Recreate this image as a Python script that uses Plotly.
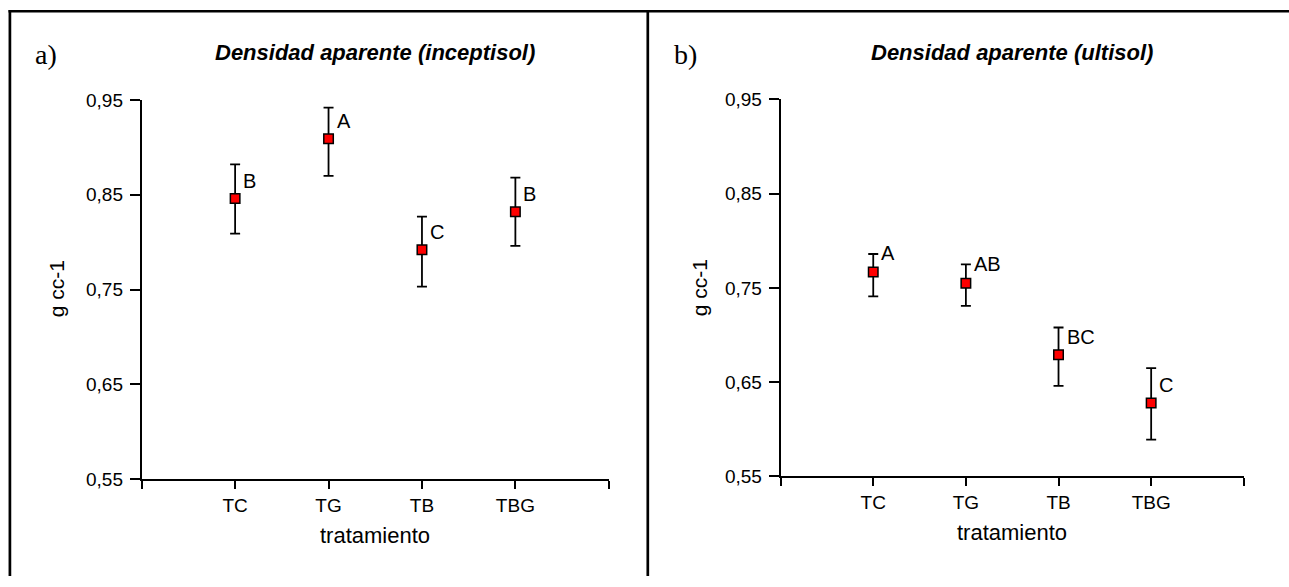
import plotly.graph_objects as go

W, H = 1289, 587

categories = ["TC", "TG", "TB", "TBG"]
letters_a = ["B", "A", "C", "B"]
letters_b = ["A", "AB", "BC", "C"]

mean_a = [0.846, 0.909, 0.792, 0.832]
upper_a = [0.882, 0.942, 0.827, 0.868]
lower_a = [0.809, 0.870, 0.753, 0.796]

mean_b = [0.767, 0.755, 0.679, 0.628]
upper_b = [0.786, 0.775, 0.708, 0.665]
lower_b = [0.741, 0.731, 0.646, 0.589]

ytick_vals = [0.55, 0.65, 0.75, 0.85, 0.95]
ytick_text = ["0,55", "0,65", "0,75", "0,85", "0,95"]

# letter pixel offsets relative to top of error bar (style)
label_dy_a = [-16.5, -13.5, -15.5, -16]
label_dy_b = [1, 0, -9, -17]

FONT = "Liberation Sans, Arial, sans-serif"

fig = go.Figure()

xpos = [i + 1 for i in range(len(categories))]


def add_panel(mean, upper, lower, xa, ya):
    fig.add_trace(go.Scatter(
        x=xpos, y=mean, mode="markers",
        xaxis=xa, yaxis=ya,
        marker=dict(symbol="square", size=9.5, color="#ff0000",
                    line=dict(color="#000000", width=1.5)),
        error_y=dict(type="data", symmetric=False,
                     array=[u - m for u, m in zip(upper, mean)],
                     arrayminus=[m - l for m, l in zip(mean, lower)],
                     color="#000000", thickness=1.8, width=5),
        showlegend=False, hoverinfo="skip",
    ))


add_panel(mean_a, upper_a, lower_a, "x", "y")
add_panel(mean_b, upper_b, lower_b, "x2", "y2")


def px_x(p):
    return p / W


def px_y(p):
    return 1 - p / H


xaxis_common = dict(
    range=[0, len(categories) + 1],
    tickmode="array",
    tickvals=list(range(len(categories) + 2)),
    ticktext=[""] + categories + [""],
    ticks="outside", ticklen=8, tickwidth=1.8, tickcolor="#000",
    showline=True, linecolor="#000", linewidth=1.8,
    showgrid=False, zeroline=False,
    tickfont=dict(family=FONT, size=19, color="#000"),
    fixedrange=True,
)
yaxis_common = dict(
    range=[0.55, 0.95],
    tickmode="array", tickvals=ytick_vals, ticktext=ytick_text,
    ticks="outside", ticklen=10, tickwidth=1.8, tickcolor="#000",
    showline=True, linecolor="#000", linewidth=1.8,
    showgrid=False, zeroline=False,
    tickfont=dict(family=FONT, size=19, color="#000"),
    ticklabelstandoff=3,
    fixedrange=True,
)

fig.update_layout(
    width=W, height=H,
    margin=dict(l=0, r=0, t=0, b=0),
    paper_bgcolor="#ffffff", plot_bgcolor="#ffffff",
    xaxis=dict(domain=[px_x(141.7), px_x(608.8)], anchor="y", **xaxis_common),
    yaxis=dict(domain=[px_y(486.5), px_y(93.3)], anchor="x", **yaxis_common),
    xaxis2=dict(domain=[px_x(780.6), px_x(1243.8)], anchor="y2", **xaxis_common),
    yaxis2=dict(domain=[px_y(483.7), px_y(92.8)], anchor="x2", **yaxis_common),
)

annotations = []
for xa, ya, mean, upper, letters, dys in [
    ("x", "y", mean_a, upper_a, letters_a, label_dy_a),
    ("x2", "y2", mean_b, upper_b, letters_b, label_dy_b),
]:
    for xi, u, t, dy in zip(xpos, upper, letters, dys):
        annotations.append(dict(
            x=xi, y=u, xref=xa, yref=ya, text=t, showarrow=False,
            xanchor="left", yanchor="middle", xshift=6, yshift=dy,
            font=dict(family=FONT, size=20, color="#000"),
        ))

# (panel label, title, label x, title/axis centre x, y-title x, x-title y, y-title y)
panels = [
    ("a)", "Densidad aparente (inceptisol)", 46, 375.3, 56, 545, 289.5),
    ("b)", "Densidad aparente (ultisol)", 685, 1012.2, 699, 542, 288.5),
]
for lab, title, lab_x, tx, ytx, xty, yty in panels:
    annotations.append(dict(
        x=px_x(lab_x), y=px_y(46.2), xref="paper", yref="paper",
        text=lab, showarrow=False, xanchor="center", yanchor="middle",
        font=dict(family="Liberation Serif, Times New Roman, serif", size=28, color="#000"),
    ))
    annotations.append(dict(
        x=px_x(tx), y=px_y(44.1), xref="paper", yref="paper",
        text="<b><i>" + title + "</i></b>", showarrow=False,
        xanchor="center", yanchor="middle",
        font=dict(family=FONT, size=22, color="#000"),
    ))
    annotations.append(dict(
        x=px_x(tx), y=px_y(xty), xref="paper", yref="paper",
        text="tratamiento", showarrow=False,
        xanchor="center", yanchor="middle",
        font=dict(family=FONT, size=22, color="#000"),
    ))
    annotations.append(dict(
        x=px_x(ytx), y=px_y(yty), xref="paper", yref="paper",
        text="g cc-1", showarrow=False, textangle=-90,
        xanchor="center", yanchor="middle",
        font=dict(family=FONT, size=21, color="#000"),
    ))

fig.update_layout(annotations=annotations)

# panel frames
shapes = []
line = dict(color="#000", width=2.7)
shapes.append(dict(type="line", xref="paper", yref="paper",
                   x0=px_x(8.5), x1=1.0, y0=px_y(1.3), y1=px_y(1.3), line=line))
for xv in [9.9, 647.8]:
    shapes.append(dict(type="line", xref="paper", yref="paper",
                       x0=px_x(xv), x1=px_x(xv), y0=px_y(0), y1=0, line=line))
fig.update_layout(shapes=shapes)

fig.write_html("out.html")
